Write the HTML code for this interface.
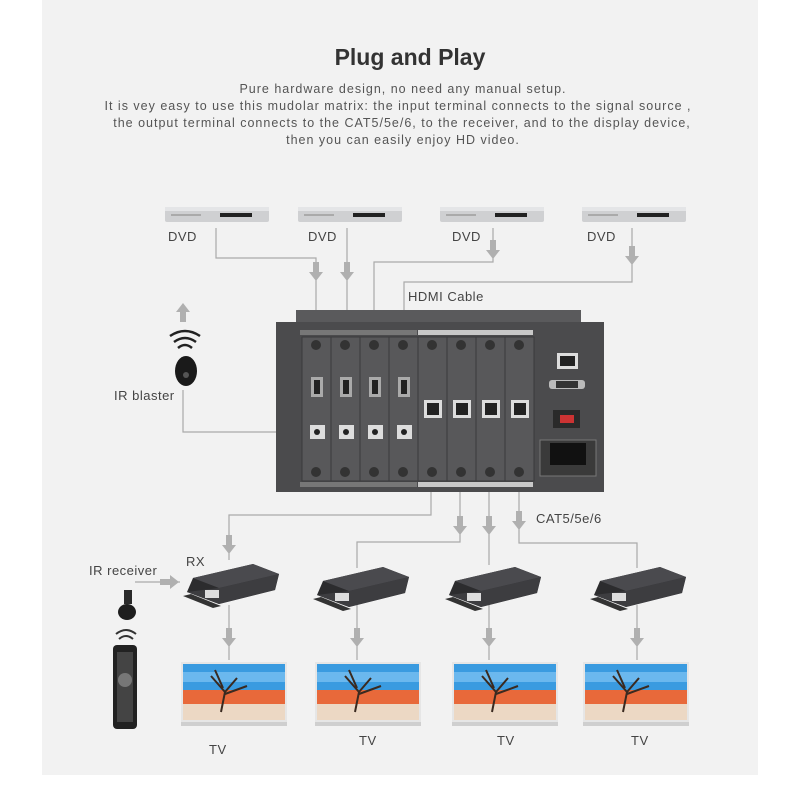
<!DOCTYPE html>
<html><head><meta charset="utf-8"><style>
html,body{margin:0;padding:0;background:#fff;width:800px;height:800px;overflow:hidden}
svg{position:absolute;left:0;top:0}
text{font-family:"Liberation Sans",sans-serif}
</style></head><body>
<svg width="800" height="800" viewBox="0 0 800 800" xmlns="http://www.w3.org/2000/svg">
<defs>
<g id="arr"><rect x="-3" y="-10" width="6" height="10" fill="#b0b0b0"/><polygon points="-7,0 7,0 0,9" fill="#b0b0b0"/></g>
<g id="dvd"><rect x="0" y="0" width="104" height="15" rx="2" fill="#cfd0d2"/><rect x="0" y="0" width="104" height="4" fill="#e4e5e7"/><rect x="55" y="6" width="32" height="4" fill="#222"/><rect x="6" y="7" width="30" height="2" fill="#aaa"/></g>
<g id="rx"><polygon points="10,18 70,4 96,14 92,30 36,44 4,32" fill="#2c2c2e"/><polygon points="4,32 36,44 92,30 96,14 36,28" fill="#3d3d40"/><polygon points="10,18 70,4 96,14 36,28" fill="#4a4a4e"/><rect x="22" y="30" width="14" height="8" fill="#ddd"/><polygon points="0,36 8,34 38,46 30,48" fill="#333"/></g>
<g id="tv"><rect x="0" y="0" width="106" height="60" fill="#e6e6e6"/><rect x="2" y="2" width="102" height="26" fill="#3a9be0"/><rect x="2" y="10" width="102" height="10" fill="#6bb8ee"/><rect x="2" y="28" width="102" height="14" fill="#e8693a"/><rect x="2" y="42" width="102" height="16" fill="#ecd8c4"/><path d="M40 50 L44 30 L30 14 M44 30 L56 16 M44 32 L66 24 M42 26 L34 8" stroke="#3a2a20" stroke-width="2" fill="none"/><rect x="0" y="60" width="106" height="4" fill="#cfcfcf"/></g>
</defs>
<rect x="42" y="0" width="716" height="775" fill="#f2f2f2"/>
<text x="410" y="65" font-size="23" font-weight="bold" fill="#333" text-anchor="middle">Plug and Play</text>
<g font-size="12.5" fill="#555" text-anchor="middle" letter-spacing="1">
<text x="403" y="93">Pure hardware design, no need any manual setup.</text>
<text x="398" y="110">It is vey easy to use this mudolar matrix: the input terminal connects to the signal source ,</text>
<text x="402" y="127">the output terminal connects to the CAT5/5e/6,  to the receiver, and to the display device,</text>
<text x="403" y="144">then you can easily enjoy HD video.</text>
</g>
<use href="#dvd" x="165" y="207"/><use href="#dvd" x="298" y="207"/><use href="#dvd" x="440" y="207"/><use href="#dvd" x="582" y="207"/>
<g font-size="13" fill="#444" letter-spacing="0.5">
<text x="168" y="241">DVD</text><text x="308" y="241">DVD</text><text x="452" y="241">DVD</text><text x="587" y="241">DVD</text>
<text x="408" y="301">HDMI Cable</text><text x="114" y="400">IR blaster</text>
<text x="536" y="523">CAT5/5e/6</text><text x="89" y="575">IR receiver</text><text x="186" y="566">RX</text>
<text x="209" y="754">TV</text><text x="359" y="745">TV</text><text x="497" y="745">TV</text><text x="631" y="745">TV</text>
</g>
<g stroke="#aaa" stroke-width="1.2" fill="none">
<path d="M216 228 V258 H316 V312"/><path d="M347 228 V312"/><path d="M493 228 V262 H374 V312"/><path d="M632 228 V282 H404 V312"/>
<path d="M183 390 V432 H316"/>
<path d="M431 488 V515 H229 V560"/><path d="M460 488 V542 H357 V568"/><path d="M489 488 V565"/><path d="M519 488 V543 H637 V568"/>
<path d="M135 582 H180"/>
<path d="M229 605 V660"/><path d="M357 605 V660"/><path d="M489 605 V660"/><path d="M637 605 V660"/>
</g>
<use href="#arr" x="316" y="272"/><use href="#arr" x="347" y="272"/><use href="#arr" x="493" y="250"/><use href="#arr" x="632" y="256"/>
<use href="#arr" x="229" y="545"/><use href="#arr" x="460" y="526"/><use href="#arr" x="489" y="526"/><use href="#arr" x="519" y="521"/>
<use href="#arr" x="229" y="638"/><use href="#arr" x="357" y="638"/><use href="#arr" x="489" y="638"/><use href="#arr" x="637" y="638"/>
<g transform="translate(183,312) rotate(180)"><use href="#arr"/></g>
<g transform="translate(170,582) rotate(-90)"><use href="#arr"/></g>
<rect x="296" y="310" width="285" height="14" fill="#5a5a5c"/>
<rect x="276" y="322" width="328" height="170" fill="#4b4b4d"/>
<rect x="300" y="330" width="117" height="5" fill="#777"/><rect x="418" y="330" width="115" height="5" fill="#c8c8c8"/>
<rect x="300" y="482" width="117" height="5" fill="#777"/><rect x="418" y="482" width="115" height="5" fill="#c8c8c8"/>
<g fill="#58585a" stroke="#3a3a3c" stroke-width="1">
<rect x="302" y="337" width="29" height="144"/><rect x="331" y="337" width="29" height="144"/><rect x="360" y="337" width="29" height="144"/><rect x="389" y="337" width="29" height="144"/>
<rect x="418" y="337" width="29" height="144"/><rect x="447" y="337" width="29" height="144"/><rect x="476" y="337" width="29" height="144"/><rect x="505" y="337" width="29" height="144"/>
</g>
<g fill="#333">
<circle cx="316" cy="345" r="5"/><circle cx="345" cy="345" r="5"/><circle cx="374" cy="345" r="5"/><circle cx="403" cy="345" r="5"/><circle cx="432" cy="345" r="5"/><circle cx="461" cy="345" r="5"/><circle cx="490" cy="345" r="5"/><circle cx="519" cy="345" r="5"/>
<circle cx="316" cy="472" r="5"/><circle cx="345" cy="472" r="5"/><circle cx="374" cy="472" r="5"/><circle cx="403" cy="472" r="5"/><circle cx="432" cy="472" r="5"/><circle cx="461" cy="472" r="5"/><circle cx="490" cy="472" r="5"/><circle cx="519" cy="472" r="5"/>
</g>
<g fill="#aaa"><rect x="311" y="377" width="12" height="20"/><rect x="340" y="377" width="12" height="20"/><rect x="369" y="377" width="12" height="20"/><rect x="398" y="377" width="12" height="20"/></g>
<g fill="#222"><rect x="314" y="380" width="6" height="14"/><rect x="343" y="380" width="6" height="14"/><rect x="372" y="380" width="6" height="14"/><rect x="401" y="380" width="6" height="14"/></g>
<g fill="#ddd"><rect x="310" y="425" width="15" height="14"/><rect x="339" y="425" width="15" height="14"/><rect x="368" y="425" width="15" height="14"/><rect x="397" y="425" width="15" height="14"/>
<rect x="424" y="400" width="18" height="18"/><rect x="453" y="400" width="18" height="18"/><rect x="482" y="400" width="18" height="18"/><rect x="511" y="400" width="18" height="18"/></g>
<g fill="#222"><circle cx="317" cy="432" r="3"/><circle cx="346" cy="432" r="3"/><circle cx="375" cy="432" r="3"/><circle cx="404" cy="432" r="3"/>
<rect x="427" y="403" width="12" height="12"/><rect x="456" y="403" width="12" height="12"/><rect x="485" y="403" width="12" height="12"/><rect x="514" y="403" width="12" height="12"/></g>
<rect x="557" y="353" width="21" height="16" fill="#ddd"/><rect x="560" y="356" width="15" height="10" fill="#222"/>
<rect x="549" y="380" width="36" height="9" rx="3" fill="#bbb"/><rect x="556" y="381" width="22" height="7" fill="#333"/>
<rect x="553" y="410" width="27" height="18" fill="#2a2a2a"/><rect x="560" y="415" width="14" height="8" fill="#c33"/>
<rect x="540" y="440" width="56" height="36" fill="#3a3a3a" stroke="#777"/><rect x="550" y="443" width="36" height="22" fill="#111"/>
<path d="M170 336 Q185 326 200 336 M174 342 Q185 334 196 342 M178 348 Q185 342 192 348" stroke="#222" stroke-width="2.5" fill="none"/>
<ellipse cx="186" cy="371" rx="11" ry="15" fill="#1a1a1a"/><circle cx="186" cy="375" r="3" fill="#555"/>
<rect x="124" y="590" width="8" height="14" fill="#2a2a2a"/><ellipse cx="127" cy="612" rx="9" ry="8" fill="#1e1e1e"/>
<path d="M116 634 Q126 626 136 634 M119 639 Q126 633 133 639" stroke="#333" stroke-width="2" fill="none"/>
<rect x="113" y="645" width="24" height="84" rx="4" fill="#222"/><rect x="117" y="652" width="16" height="70" fill="#444"/><circle cx="125" cy="680" r="7" fill="#777"/>
<use href="#rx" x="183" y="560"/><use href="#rx" x="313" y="563"/><use href="#rx" x="445" y="563"/><use href="#rx" x="590" y="563"/>
<use href="#tv" x="181" y="662"/><use href="#tv" x="315" y="662"/><use href="#tv" x="452" y="662"/><use href="#tv" x="583" y="662"/>
</svg>
</body></html>
